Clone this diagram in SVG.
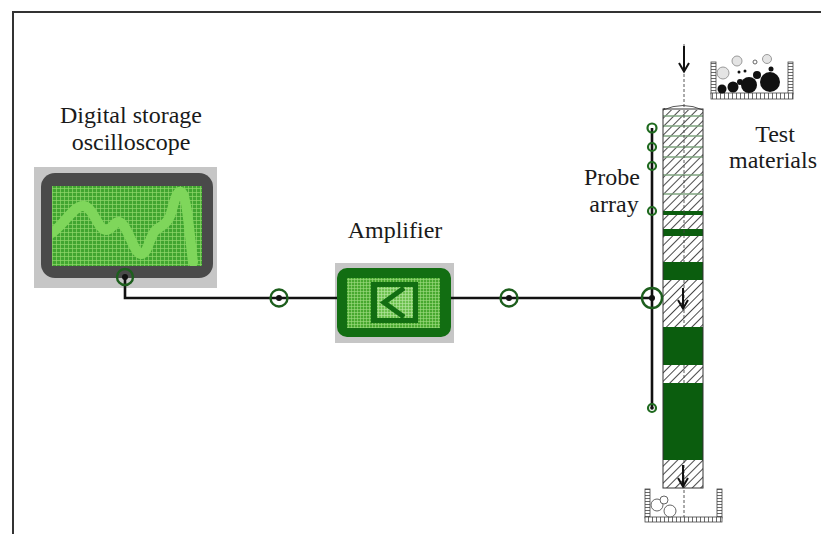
<svg xmlns="http://www.w3.org/2000/svg" width="821" height="534" viewBox="0 0 821 534">
<style>
  .lbl{font-family:"Liberation Serif","Times New Roman",serif;font-size:24px;fill:#1a1a1a;text-anchor:middle}
  .wire{fill:none;stroke:#111;stroke-width:2.6}
  .term{fill:none;stroke:#1d5e1d;stroke-width:2.4}
  .probe{fill:none;stroke:#1f6a1f;stroke-width:2.2}
  .dot{fill:#111}
  .cl{fill:none;stroke:#444;stroke-width:0.9;stroke-dasharray:3 2}
  .arrow{fill:none;stroke:#111;stroke-width:2}
  .solid{fill:#0b5d0e}
  .layer{stroke:#7fa57f;stroke-width:1.3}
  .wall{stroke:#444;stroke-width:0.8}
  .pebble{fill:#111}
  .grit{fill:#e4e4e4;stroke:#9a9a9a;stroke-width:1}
  .grain{fill:#fff;stroke:#555;stroke-width:0.9}
</style>
<defs>
  <pattern id="hatch" width="6" height="6" patternUnits="userSpaceOnUse" patternTransform="rotate(45)">
    <rect width="6" height="6" fill="#fff"/>
    <line x1="0.5" y1="0" x2="0.5" y2="6" stroke="#4a4a4a" stroke-width="1"/>
  </pattern>
  <pattern id="scope-grid" width="4" height="4" patternUnits="userSpaceOnUse">
    <rect width="4" height="4" fill="#41a530"/>
    <path d="M0 0.5H4M0.5 0V4" stroke="#8fd76b" stroke-width="0.7"/>
  </pattern>
  <pattern id="amp-grid" width="3" height="3" patternUnits="userSpaceOnUse">
    <rect width="3" height="3" fill="#48a82f"/>
    <path d="M0 0.5H3M0.5 0V3" stroke="#9fdc82" stroke-width="0.6"/>
  </pattern>
  <pattern id="amp-grid-light" width="3" height="3" patternUnits="userSpaceOnUse">
    <rect width="3" height="3" fill="#6cc04e"/>
    <path d="M0 0.5H3M0.5 0V3" stroke="#b9e8a3" stroke-width="0.6"/>
  </pattern>
  <pattern id="vticks" width="5" height="3" patternUnits="userSpaceOnUse">
    <rect width="5" height="3" fill="#fff"/>
    <line x1="0" y1="0.5" x2="5" y2="0.5" stroke="#444" stroke-width="0.8"/>
  </pattern>
  <pattern id="hticks" width="4" height="6" patternUnits="userSpaceOnUse">
    <rect width="4" height="6" fill="#fff"/>
    <line x1="0.5" y1="0" x2="0.5" y2="6" stroke="#444" stroke-width="0.8"/>
  </pattern>
  <clipPath id="screen-clip"><rect x="52" y="186" width="150" height="80"/></clipPath>
  <clipPath id="column-clip"><rect x="663" y="108" width="40" height="380"/></clipPath>
</defs>

<!-- frame -->
<path d="M13 534V12H821" fill="none" stroke="#333" stroke-width="2"/>

<!-- labels -->
<g id="labels">
  <text class="lbl" x="131" y="123">Digital storage</text>
  <text class="lbl" x="131" y="150">oscilloscope</text>
  <text class="lbl" x="395" y="238">Amplifier</text>
  <text class="lbl" x="612" y="185">Probe</text>
  <text class="lbl" x="614" y="212">array</text>
  <text class="lbl" x="775" y="142">Test</text>
  <text class="lbl" x="773" y="168">materials</text>
</g>

<!-- oscilloscope -->
<g id="oscilloscope">
  <rect x="34" y="167" width="183" height="121" fill="#c6c6c6"/>
  <rect x="41" y="173" width="172" height="105" rx="14" fill="#4a4a4a"/>
  <rect x="52" y="186" width="150" height="80" fill="url(#scope-grid)"/>
  <g clip-path="url(#screen-clip)">
    <path d="M50 234 C62 228 74 204 84 206 C94 208 98 230 106 230 C112 230 114 221 119 222 C128 224 134 256 142 254 C148 252 150 236 155 231 C160 226 166 226 170 216 C174 205 176 190 181 192 C187 194 190 240 193 262" fill="none" stroke="#7fd65b" stroke-width="10" stroke-linecap="round" stroke-linejoin="round"/>
  </g>
</g>

<!-- amplifier -->
<g id="amplifier">
  <rect x="335" y="263" width="119" height="80" fill="#c6c6c6"/>
  <rect x="337" y="268" width="114" height="69" rx="10" fill="#126e12"/>
  <rect x="347" y="278" width="93" height="50" fill="url(#amp-grid)"/>
  <rect x="371" y="282" width="47" height="41" fill="#126e12"/>
  <rect x="377" y="287" width="36" height="31" fill="url(#amp-grid-light)"/>
  <path d="M404 288 L384 302.5 L404 317" fill="none" stroke="#126e12" stroke-width="5"/>
</g>

<!-- sample column -->
<g id="column">
  <g clip-path="url(#column-clip)">
    <rect x="663" y="108" width="40" height="380" fill="url(#hatch)"/>
    <g class="layer">
      <line x1="663" y1="116" x2="703" y2="116"/>
      <line x1="663" y1="126" x2="703" y2="126"/>
      <line x1="663" y1="136" x2="703" y2="136"/>
      <line x1="663" y1="147" x2="703" y2="147"/>
      <line x1="663" y1="157" x2="703" y2="157"/>
      <line x1="663" y1="175" x2="703" y2="175"/>
      <line x1="663" y1="194" x2="703" y2="194"/>
    </g>
    <rect class="solid" x="663" y="211" width="40" height="4"/>
    <rect class="solid" x="663" y="229" width="40" height="7"/>
    <rect class="solid" x="663" y="262" width="40" height="18"/>
    <rect class="solid" x="663" y="327" width="40" height="38"/>
    <rect class="solid" x="663" y="383" width="40" height="77"/>
  </g>
  <path d="M663 110 Q683 101 703 110" fill="#fff" stroke="#444" stroke-width="0.9"/>
  <rect x="663" y="109" width="40" height="379" fill="none" stroke="#333" stroke-width="1"/>
  <line class="cl" x1="684" y1="44" x2="684" y2="108"/>
  <line class="cl" x1="684" y1="110" x2="684" y2="262"/>
  <line class="cl" x1="684" y1="280" x2="684" y2="327"/>
  <line class="cl" x1="684" y1="365" x2="684" y2="383"/>
  <line class="cl" x1="684" y1="460" x2="684" y2="518"/>
  <!-- flow arrows -->
  <path class="arrow" d="M684 46V71M679 63L684 71.5L689 63"/>
  <path class="arrow" d="M683 288V308M678 300L683 308.5L688 300"/>
  <path class="arrow" d="M683 465V486M678 478L683 486.5L688 478"/>
</g>

<!-- feed tray with test materials -->
<g id="test-materials">
  <rect class="wall" x="711" y="62" width="5" height="32" fill="url(#vticks)"/>
  <rect class="wall" x="788" y="62" width="5" height="32" fill="url(#vticks)"/>
  <rect class="wall" x="711" y="93" width="82" height="6" fill="url(#hticks)"/>
  <circle class="grit" cx="723" cy="73" r="6"/>
  <circle class="grit" cx="737" cy="61" r="5"/>
  <circle class="grit" cx="767" cy="59" r="4.5"/>
  <circle class="grain" cx="755" cy="62" r="2"/>
  <circle class="pebble" cx="722" cy="89" r="4.5"/>
  <circle class="pebble" cx="733" cy="87" r="5.5"/>
  <circle class="pebble" cx="740" cy="82" r="3"/>
  <circle class="pebble" cx="749" cy="85" r="8"/>
  <circle class="pebble" cx="770" cy="82" r="10"/>
  <circle class="pebble" cx="757" cy="75" r="4"/>
  <circle class="pebble" cx="771" cy="69" r="2.5"/>
  <circle class="pebble" cx="739" cy="72" r="1.5"/>
  <circle class="pebble" cx="745" cy="71" r="1.5"/>
</g>

<!-- collection tray -->
<g id="collector">
  <rect class="wall" x="645" y="489" width="5" height="29" fill="url(#vticks)"/>
  <rect class="wall" x="717" y="489" width="5" height="29" fill="url(#vticks)"/>
  <rect class="wall" x="645" y="517" width="77" height="5" fill="url(#hticks)"/>
  <circle class="grain" cx="657" cy="505" r="6"/>
  <circle class="grain" cx="664" cy="500" r="4"/>
  <circle class="grain" cx="670" cy="511" r="6"/>
</g>

<!-- probe array -->
<g id="probe-array">
  <line x1="652" y1="128" x2="652" y2="408" stroke="#111" stroke-width="2.6"/>
  <circle class="probe" cx="652" cy="128" r="4.5"/>
  <circle class="probe" cx="652" cy="147" r="4"/>
  <circle class="probe" cx="652" cy="166" r="4"/>
  <circle class="probe" cx="652" cy="211" r="4"/>
  <circle class="probe" cx="652" cy="408" r="4"/>
  <circle class="dot" cx="652" cy="408" r="1.8"/>
</g>

<!-- connectors -->
<g id="connectors">
  <path class="wire" d="M125 277V298H337"/>
  <path class="wire" d="M451 298H652"/>
  <circle class="term" cx="125" cy="277" r="8"/>
  <circle class="dot" cx="125" cy="277" r="3"/>
  <circle class="term" cx="279" cy="298" r="8.5"/>
  <circle class="dot" cx="279" cy="298" r="3"/>
  <circle class="term" cx="509" cy="298" r="8.5"/>
  <circle class="dot" cx="509" cy="298" r="3"/>
  <circle class="term" cx="652" cy="298" r="10"/>
  <circle class="dot" cx="652" cy="298" r="3"/>
</g>
</svg>
